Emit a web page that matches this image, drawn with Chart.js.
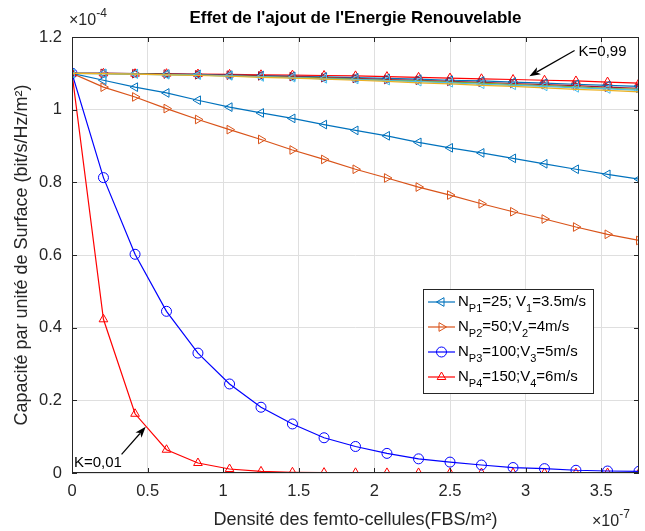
<!DOCTYPE html>
<html>
<head>
<meta charset="utf-8">
<script src="https://cdn.jsdelivr.net/npm/chart.js@4.4.1/dist/chart.umd.min.js"></script>
<style>
html, body { margin: 0; padding: 0; background: #fff; }
#wrap { width: 645px; height: 531px; position: relative; }
</style>
</head>
<body>
<div id="wrap"><canvas id="capChart"></canvas></div>
<script>
// Densité des femto-cellules (x 1e-7 FBS/m2)
const densite = [0, 0.208, 0.417, 0.625, 0.833, 1.042, 1.25, 1.458, 1.667, 1.875, 2.083, 2.292, 2.5, 2.708, 2.917, 3.125, 3.333, 3.542, 3.75];

// Capacité (x 1e-4 bit/s/Hz/m2), K = 0,01
const np1 = [1.1, 1.081, 1.062, 1.046, 1.026, 1.007, 0.991, 0.976, 0.959, 0.943, 0.928, 0.910, 0.895, 0.881, 0.866, 0.851, 0.836, 0.822, 0.809];
const np2 = [1.1, 1.062, 1.035, 1.003, 0.973, 0.945, 0.918, 0.889, 0.863, 0.836, 0.812, 0.787, 0.765, 0.741, 0.719, 0.699, 0.677, 0.657, 0.640];
const np3 = [1.1, 0.813, 0.602, 0.445, 0.330, 0.245, 0.181, 0.135, 0.097, 0.073, 0.054, 0.039, 0.030, 0.022, 0.015, 0.012, 0.0075, 0.0055, 0.0047];
const np4 = [1.1, 0.423, 0.163, 0.064, 0.0275, 0.011, 0.0045, 0.002, 0.001, 0.0005, 0.0003, 0.0002, 0.0001, 0, 0, 0, 0, 0, 0];

// K = 0,99 (courbes du haut)
const k99a = [1.1, 1.1, 1.099, 1.098, 1.097, 1.095, 1.094, 1.092, 1.090, 1.088, 1.086, 1.084, 1.081, 1.079, 1.076, 1.073, 1.070, 1.067, 1.064];
const k99b = [1.1, 1.1, 1.099, 1.098, 1.096, 1.095, 1.093, 1.091, 1.088, 1.086, 1.083, 1.081, 1.078, 1.075, 1.072, 1.069, 1.066, 1.062, 1.059];
const k99c = [1.1, 1.099, 1.098, 1.097, 1.095, 1.093, 1.091, 1.089, 1.087, 1.084, 1.081, 1.079, 1.076, 1.073, 1.069, 1.066, 1.063, 1.059, 1.056];
const k99d = [1.1, 1.099, 1.098, 1.096, 1.095, 1.093, 1.090, 1.088, 1.085, 1.083, 1.080, 1.077, 1.074, 1.070, 1.067, 1.064, 1.060, 1.057, 1.053];
const k99e = [1.1, 1.099, 1.098, 1.096, 1.094, 1.092, 1.089, 1.087, 1.084, 1.081, 1.078, 1.074, 1.071, 1.067, 1.064, 1.060, 1.056, 1.053, 1.049];
const k99f = [1.1, 1.1, 1.099, 1.099, 1.098, 1.097, 1.096, 1.095, 1.094, 1.093, 1.091, 1.089, 1.087, 1.085, 1.083, 1.081, 1.079, 1.076, 1.073];

// Graduations
const xTicks = [0, 0.5, 1, 1.5, 2, 2.5, 3, 3.5];
const xTickLabels = ['0', '0.5', '1', '1.5', '2', '2.5', '3', '3.5'];
const yTicks = [0, 0.2, 0.4, 0.6, 0.8, 1, 1.2];
const yTickLabels = ['0', '0.2', '0.4', '0.6', '0.8', '1', '1.2'];

const titre = "Effet de l'ajout de l'Energie Renouvelable";

// Légende (texte avec indices)
const legendRows = [
    [['N'], ['P1', 'sub'], ['=25; V'], ['1', 'sub'], ['=3.5m/s']],
    [['N'], ['P2', 'sub'], ['=50;V'], ['2', 'sub'], ['=4m/s']],
    [['N'], ['P3', 'sub'], ['=100;V'], ['3', 'sub'], ['=5m/s']],
    [['N'], ['P4', 'sub'], ['=150;V'], ['4', 'sub'], ['=6m/s']]
];

const FONT = '"Liberation Sans", Arial, sans-serif';
const AXIS = '#262626';

function pts(ys) {
    return ys.map((y, i) => ({ x: densite[i], y: y }));
}

function serie(label, ys, color, style, rot, showPts) {
    return {
        label: label,
        data: pts(ys),
        borderColor: color,
        backgroundColor: 'rgba(0,0,0,0)',
        borderWidth: 1.2,
        pointStyle: style,
        pointRotation: rot,
        pointRadius: showPts ? 5 : 0,
        pointBorderWidth: 1,
        pointBorderColor: color,
        pointBackgroundColor: 'rgba(0,0,0,0)',
        tension: 0,
        fill: false
    };
}

const datasets = [
    serie('k99e', k99e, '#EDB120', 'triangle', 0, false),
    serie('k99d', k99d, '#4DBEEE', 'triangle', -90, true),
    serie('k99c', k99c, '#77AC30', 'circle', 0, false),
    serie('k99b', k99b, '#A2142F', 'triangle', 90, true),
    serie('k99a', k99a, '#0072BD', 'triangle', -90, true),
    serie('k99f', k99f, '#FF0000', 'triangle', 0, true),
    serie('NP1', np1, '#0072BD', 'triangle', -90, true),
    serie('NP2', np2, '#D95319', 'triangle', 90, true),
    serie('NP3', np3, '#0000FF', 'circle', 0, true),
    serie('NP4', np4, '#FF0000', 'triangle', 0, true)
];
const legendSets = [6, 7, 8, 9];

// texte avec indices / exposants
function drawRich(ctx, parts, x, y, size) {
    let cx = x;
    parts.forEach(([t, mode]) => {
        const s = mode ? Math.round(size * 0.75) : size;
        ctx.font = s + 'px ' + FONT;
        const dy = mode === 'sub' ? size * 0.45 : (mode === 'sup' ? -size * 0.45 : 0);
        ctx.fillText(t, cx, y + dy);
        cx += ctx.measureText(t).width;
    });
}

function arrow(ctx, x1, y1, x2, y2) {
    const a = Math.atan2(y2 - y1, x2 - x1);
    const L = 11, W = 4;
    ctx.beginPath();
    ctx.moveTo(x1, y1);
    ctx.lineTo(x2 - L * 0.8 * Math.cos(a), y2 - L * 0.8 * Math.sin(a));
    ctx.stroke();
    ctx.beginPath();
    ctx.moveTo(x2, y2);
    ctx.lineTo(x2 - L * Math.cos(a) + W * Math.sin(a), y2 - L * Math.sin(a) - W * Math.cos(a));
    ctx.lineTo(x2 - L * 0.75 * Math.cos(a), y2 - L * 0.75 * Math.sin(a));
    ctx.lineTo(x2 - L * Math.cos(a) - W * Math.sin(a), y2 - L * Math.sin(a) + W * Math.cos(a));
    ctx.closePath();
    ctx.fill();
}

const decorPlugin = {
    id: 'decor',
    afterDraw(chart) {
        const ctx = chart.ctx;
        const a = chart.chartArea;
        const xs = chart.scales.x, ys = chart.scales.y;
        ctx.save();

        // titre centré sur les axes
        ctx.fillStyle = '#000';
        ctx.textBaseline = 'middle';
        ctx.textAlign = 'center';
        ctx.font = 'bold 17px ' + FONT;
        ctx.fillText(titre, (a.left + a.right) / 2, 18);

        // cadre + graduations intérieures
        ctx.strokeStyle = AXIS;
        ctx.lineWidth = 1;
        ctx.strokeRect(a.left + 0.5, a.top + 0.5, a.right - a.left - 1, a.bottom - a.top - 1);
        ctx.beginPath();
        xTicks.forEach(v => {
            const px = Math.round(xs.getPixelForValue(v)) + 0.5;
            ctx.moveTo(px, a.bottom); ctx.lineTo(px, a.bottom - 5);
            ctx.moveTo(px, a.top); ctx.lineTo(px, a.top + 5);
        });
        yTicks.forEach(v => {
            const py = Math.round(ys.getPixelForValue(v)) + 0.5;
            ctx.moveTo(a.left, py); ctx.lineTo(a.left + 5, py);
            ctx.moveTo(a.right, py); ctx.lineTo(a.right - 5, py);
        });
        ctx.stroke();

        // facteurs d'échelle
        ctx.fillStyle = AXIS;
        ctx.textAlign = 'left';
        drawRich(ctx, [['×10'], ['-4', 'sup']], a.left - 3, 21, 16);
        drawRich(ctx, [['×10'], ['-7', 'sup']], a.right - 47, 522, 16);

        // annotations K
        ctx.fillStyle = '#000';
        ctx.strokeStyle = '#000';
        ctx.lineWidth = 1.2;
        ctx.font = '15px ' + FONT;
        ctx.fillText('K=0,99', xs.getPixelForValue(3.35), ys.getPixelForValue(1.159));
        arrow(ctx, xs.getPixelForValue(3.324), ys.getPixelForValue(1.163), xs.getPixelForValue(3.025), ys.getPixelForValue(1.092));
        ctx.fillText('K=0,01', xs.getPixelForValue(0.013), ys.getPixelForValue(0.027));
        arrow(ctx, xs.getPixelForValue(0.328), ys.getPixelForValue(0.051), xs.getPixelForValue(0.4875), ys.getPixelForValue(0.127));

        // légende
        const lx = a.right - 216, ly = a.top + 252, lw = 170, lh = 104;
        ctx.fillStyle = '#fff';
        ctx.fillRect(lx, ly, lw, lh);
        ctx.strokeStyle = AXIS;
        ctx.lineWidth = 1;
        ctx.strokeRect(lx + 0.5, ly + 0.5, lw, lh);
        legendRows.forEach((row, i) => {
            const ds = chart.data.datasets[legendSets[i]];
            const yy = ly + 13 + i * 25;
            ctx.strokeStyle = ds.borderColor;
            ctx.lineWidth = 1.2;
            ctx.beginPath();
            ctx.moveTo(lx + 5, yy); ctx.lineTo(lx + 32, yy);
            ctx.stroke();
            ctx.fillStyle = 'rgba(0,0,0,0)';
            ctx.lineWidth = 1;
            Chart.helpers.drawPoint(ctx, { pointStyle: ds.pointStyle, rotation: ds.pointRotation, radius: 5, borderWidth: 1 }, lx + 18.5, yy);
            ctx.fillStyle = '#000';
            drawRich(ctx, row, lx + 35, yy, 15);
        });
        ctx.restore();
    }
};

new Chart(document.getElementById('capChart'), {
    type: 'line',
    data: { datasets: datasets },
    plugins: [decorPlugin],
    options: {
        responsive: true,
        maintainAspectRatio: false,
        animation: false,
        layout: { padding: { left: 0, right: 1, top: 37, bottom: 0 } },
        plugins: {
            legend: { display: false },
            tooltip: { enabled: false },
            title: { display: false }
        },
        scales: {
            x: {
                type: 'linear',
                min: 0,
                max: 3.75,
                afterBuildTicks: s => { s.ticks = xTicks.map(v => ({ value: v })); },
                afterFit: s => { s.height = 58; },
                grid: { color: '#dfdfdf', drawTicks: false },
                border: { display: false },
                ticks: {
                    padding: 9,
                    color: AXIS,
                    font: { family: FONT, size: 16.5 },
                    maxRotation: 0,
                    callback: v => xTickLabels[xTicks.indexOf(v)]
                },
                title: {
                    display: true,
                    text: 'Densité des femto-cellules(FBS/m²)',
                    color: AXIS,
                    font: { family: FONT, size: 18 },
                    padding: { top: 0, bottom: 0 }
                }
            },
            y: {
                type: 'linear',
                min: 0,
                max: 1.2,
                afterBuildTicks: s => { s.ticks = yTicks.map(v => ({ value: v })); },
                afterFit: s => { s.width = 72; },
                grid: { color: '#dfdfdf', drawTicks: false },
                border: { display: false },
                ticks: {
                    padding: 10,
                    color: AXIS,
                    font: { family: FONT, size: 16.5 },
                    callback: v => yTickLabels[yTicks.indexOf(v)]
                },
                title: {
                    display: true,
                    text: 'Capacité par unité de Surface (bit/s/Hz/m²)',
                    color: AXIS,
                    font: { family: FONT, size: 18 },
                    padding: { top: 11, bottom: 0 }
                }
            }
        }
    }
});
</script>
</body>
</html>
